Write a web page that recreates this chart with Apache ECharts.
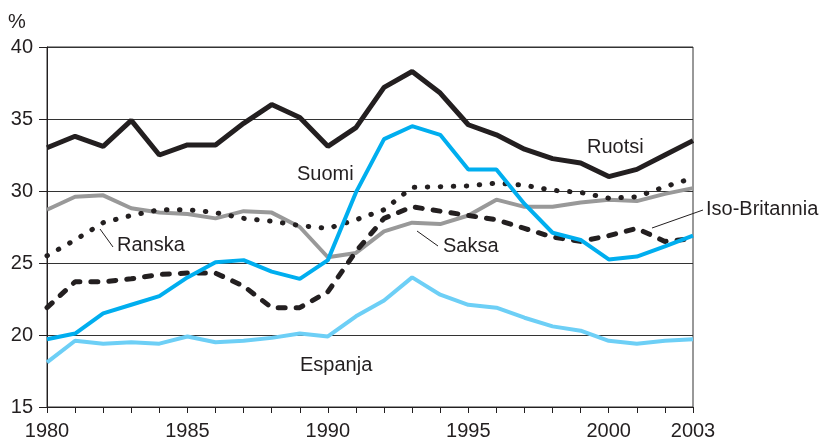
<!DOCTYPE html>
<html>
<head>
<meta charset="utf-8">
<script src="https://cdn.jsdelivr.net/npm/echarts@6/dist/echarts.min.js"></script>
<style>
  html, body { margin: 0; padding: 0; background: #fff; }
  #main { width: 827px; height: 444px; }
</style>
</head>
<body>
<div id="main"></div>
<script>
var years = [1980, 1981, 1982, 1983, 1984, 1985, 1986, 1987, 1988, 1989, 1990, 1991,
             1992, 1993, 1994, 1995, 1996, 1997, 1998, 1999, 2000, 2001, 2002, 2003];
var shownYears = [1980, 1985, 1990, 1995, 2000, 2003];

var ruotsi = [33.0, 33.8, 33.1, 34.9, 32.5, 33.2, 33.2, 34.7, 36.0, 35.1, 33.1, 34.4,
              37.2, 38.3, 36.8, 34.6, 33.9, 32.9, 32.25, 31.95, 31.0, 31.5, 32.5, 33.5];
var suomi = [19.7, 20.1, 21.5, 22.1, 22.7, 24.0, 25.05, 25.2, 24.4, 23.9, 25.2, 29.9,
             33.6, 34.5, 33.9, 31.5, 31.5, 29.1, 27.1, 26.6, 25.25, 25.45, 26.15, 26.9];
var espanja = [18.1, 19.6, 19.4, 19.5, 19.4, 19.9, 19.5, 19.6, 19.8, 20.1, 19.9, 21.3,
               22.4, 24.0, 22.8, 22.1, 21.9, 21.2, 20.6, 20.3, 19.6, 19.4, 19.6, 19.7];
var saksa = [28.7, 29.6, 29.7, 28.8, 28.5, 28.4, 28.1, 28.6, 28.5, 27.5, 25.4, 25.7,
             27.2, 27.8, 27.7, 28.3, 29.4, 28.9, 28.9, 29.2, 29.4, 29.3, 29.8, 30.2];
var ranska = [25.5, 26.6, 27.8, 28.3, 28.7, 28.7, 28.5, 28.1, 27.9, 27.6, 27.4, 28.0,
              28.7, 30.25, 30.3, 30.35, 30.55, 30.4, 30.05, 29.9, 29.5, 29.6, 30.3, 30.9];
var isoBritannia = [21.9, 23.7, 23.7, 23.9, 24.2, 24.3, 24.3, 23.4, 21.9, 21.9, 23.0, 25.8,
                    28.1, 28.9, 28.6, 28.3, 28.0, 27.4, 26.8, 26.5, 26.9, 27.4, 26.5, 26.7];

function pairs(values) {
    return years.map(function (y, i) { return [y, values[i]]; });
}

var ink = '#231f20';
var font = 'Liberation Sans, Arial, sans-serif';

var chartDom = document.getElementById('main');
var myChart = echarts.init(chartDom);
var option;

function label(text, x, y) {
    return {
        type: 'text', x: x, y: y, silent: true,
        style: { text: text, fill: ink, fontSize: 20, fontFamily: font, verticalAlign: 'middle' }
    };
}
function leader(x1, y1, x2, y2) {
    return {
        type: 'line', silent: true,
        shape: { x1: x1, y1: y1, x2: x2, y2: y2 },
        style: { stroke: ink, lineWidth: 1 }
    };
}

option = {
    animation: false,
    backgroundColor: '#fff',
    textStyle: { fontFamily: font },
    grid: {
        left: 47, right: 134, top: 47, bottom: 37,
        show: true, borderColor: '#333', borderWidth: 1
    },
    xAxis: {
        type: 'value',
        min: 1980, max: 2003, interval: 1,
        axisLine: { lineStyle: { color: ink, width: 1 } },
        axisTick: { show: true, inside: false, length: 6, lineStyle: { color: ink } },
        axisLabel: {
            color: ink, fontSize: 20, margin: 14,
            formatter: function (v) { return shownYears.indexOf(v) >= 0 ? String(v) : ''; }
        },
        splitLine: { show: false }
    },
    yAxis: {
        type: 'value',
        min: 15, max: 40, interval: 5,
        axisLine: { show: true, lineStyle: { color: ink, width: 1 } },
        axisTick: { show: true, inside: false, length: 8, lineStyle: { color: ink } },
        axisLabel: { color: ink, fontSize: 20, margin: 14 },
        splitLine: { show: true, lineStyle: { color: '#333', width: 1 } }
    },
    series: [
        {
            name: 'Saksa', type: 'line', data: pairs(saksa), symbol: 'none',
            lineStyle: { color: '#999999', width: 4 }
        },
        {
            name: 'Espanja', type: 'line', data: pairs(espanja), symbol: 'none',
            lineStyle: { color: '#6dcff6', width: 4 }
        },
        {
            name: 'Ranska', type: 'line', data: pairs(ranska), symbol: 'none',
            lineStyle: { color: ink, width: 5, type: [0.5, 12.5], cap: 'round' }
        },
        {
            name: 'Iso-Britannia', type: 'line', data: pairs(isoBritannia), symbol: 'none',
            lineStyle: { color: ink, width: 5, type: [7, 11], cap: 'round' }
        },
        {
            name: 'Suomi', type: 'line', data: pairs(suomi), symbol: 'none',
            lineStyle: { color: '#00aeef', width: 4 }
        },
        {
            name: 'Ruotsi', type: 'line', data: pairs(ruotsi), symbol: 'none',
            lineStyle: { color: ink, width: 5 }
        }
    ],
    graphic: [
        label('%', 8, 22),
        label('Ruotsi', 587, 147),
        label('Suomi', 297, 174),
        label('Ranska', 117, 245),
        leader(100, 229, 113, 247),
        label('Saksa', 443, 246),
        leader(417, 231, 438, 246),
        label('Espanja', 300, 365),
        label('Iso-Britannia', 706, 209),
        leader(652, 228, 703, 210)
    ]
};

option && myChart.setOption(option);
</script>
</body>
</html>
